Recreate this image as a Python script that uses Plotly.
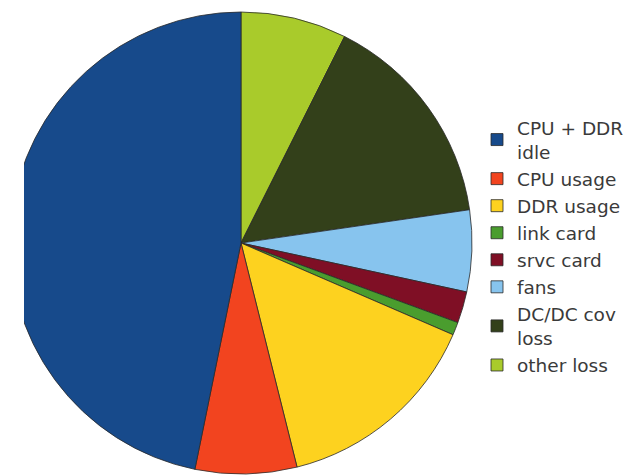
import plotly.graph_objects as go

# listed clockwise from 12 o'clock
labels = ["other loss", "DC/DC cov<br>loss", "fans", "srvc card", "link card",
          "DDR usage", "CPU usage", "CPU + DDR<br>idle"]
values = [7.4, 15.3, 5.7, 2.2, 0.9, 14.6, 7.1, 46.8]
colors = ["#a9cb2b", "#33401a", "#87c4ee", "#7f0f25", "#4a9d2e",
          "#fdd21f", "#f2441f", "#174a8b"]

W, H = 639, 476
cx, cy, r = 241, 243, 231

fig = go.Figure(go.Pie(
    labels=labels,
    values=values,
    sort=False,
    direction="clockwise",
    rotation=0,
    textinfo="none",
    marker=dict(colors=colors, line=dict(color="#2a2a2a", width=0.8)),
    domain=dict(x=[(cx - r) / W, (cx + r) / W],
                y=[(H - cy - r) / H, (H - cy + r) / H]),
))

fig.update_layout(
    width=W, height=H,
    margin=dict(l=0, r=0, t=0, b=0),
    paper_bgcolor="white",
    plot_bgcolor="white",
    showlegend=True,
    legend=dict(
        x=477 / W, xanchor="left",
        y=(H - 246.5) / H, yanchor="middle",
        traceorder="reversed",
        font=dict(family="DejaVu Sans", size=18.5, color="#3a3a3a"),
        bgcolor="rgba(0,0,0,0)",
        itemwidth=30,
    ),
    shapes=[dict(type="rect", xref="paper", yref="paper",
                 x0=0, x1=24 / W, y0=0, y1=1,
                 fillcolor="white", line=dict(width=0), layer="above")],
)

fig.write_html("out.html")
